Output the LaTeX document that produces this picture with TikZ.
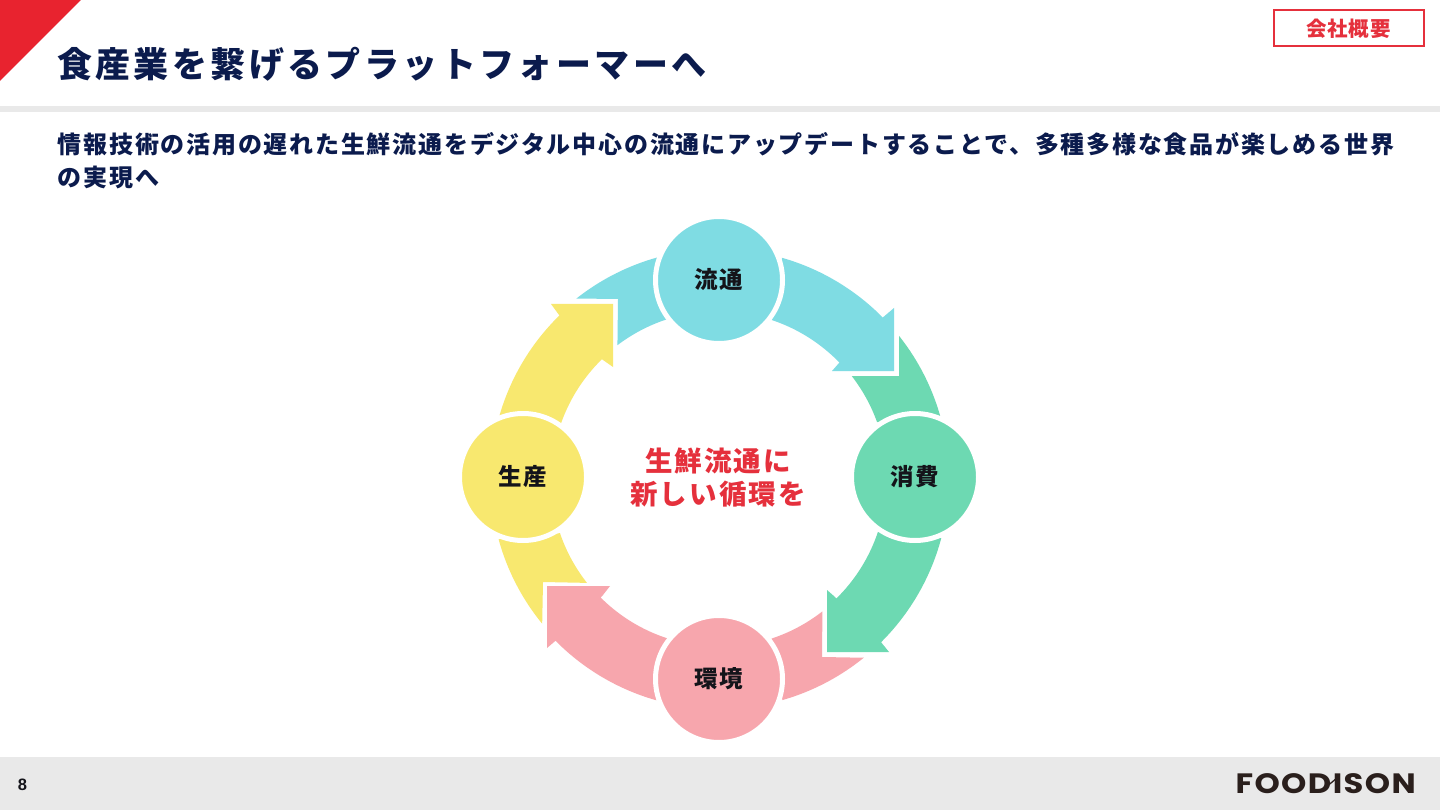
\documentclass[tikz,border=0pt]{standalone}
\usepackage{fontspec}
\setmainfont{Noto Sans CJK JP}
\newfontfamily\titlefont[LetterSpace=9.7]{Noto Sans CJK JP}
\newfontfamily\bodyfont[LetterSpace=7.4]{Noto Sans CJK JP}
\newfontfamily\centerfont[LetterSpace=7.5]{Noto Sans CJK JP}
\newfontfamily\labelfont[LetterSpace=5.5]{Noto Sans CJK JP}
\newfontfamily\tagfont[LetterSpace=4]{Noto Sans CJK JP}
\newfontfamily\logofont[LetterSpace=5,FakeStretch=1.15]{Poppins}
\newfontfamily\numfont{Liberation Sans}
\definecolor{brandred}{HTML}{E8232F}
\definecolor{softred}{HTML}{E5303C}
\definecolor{navy}{HTML}{0B1B4D}
\definecolor{band}{HTML}{E9E9E9}
\definecolor{flowc}{HTML}{7FDCE3}
\definecolor{consc}{HTML}{6DD9B2}
\definecolor{envc}{HTML}{F7A6AD}
\definecolor{prodc}{HTML}{F8E86F}
\definecolor{ink}{HTML}{14141A}
\definecolor{logoc}{HTML}{2A1F1C}
\tikzset{
  rim/.style 2 args={domain=#1:#2,samples=30},
  stage/.style={circle,minimum size=127pt,inner sep=0pt,draw=white,line width=5pt,text=ink,
    font={\labelfont\bfseries\fontsize{23.5}{26}\selectfont}},
}
\begin{document}
\begin{tikzpicture}[x=1pt,y=-1pt]
\useasboundingbox (0,0) rectangle (1440,810);
\fill[white] (0,0) rectangle (1440,810);
% frame
\fill[brandred] (0,0) -- (81,0) -- (0,81) -- cycle;
\fill[band] (0,106) rectangle (1440,112);
\fill[band] (0,757) rectangle (1440,810);
\node[draw=softred,line width=2pt,minimum width=150pt,minimum height=36pt,inner sep=0pt,text=softred,
  font={\tagfont\bfseries\fontsize{20.5}{24}\selectfont}] (tag) at (1348.5,28.5) {会社概要};
\node[anchor=base west,inner sep=0pt,text=navy,font={\titlefont\bfseries\fontsize{35}{40}\selectfont}] (title) at (57,78) {食産業を繋げるプラットフォーマーへ};
\node[anchor=north west,inner sep=0pt,text=navy,align=left,font={\bodyfont\bfseries\fontsize{24}{33}\selectfont}] (lead) at (57.5,132)
  {情報技術の活用の遅れた生鮮流通をデジタル中心の流通にアップデートすることで、多種多様な食品が楽しめる世界\\の実現へ};
% arrows
\fill[flowc] plot[rim={-74.1}{-44.6}] ({719+230*cos(\x)},{479+230*sin(\x)}) -- (894,308) -- (894,371) -- (832,371) -- (839,363) -- plot[rim={-44}{-71.6}] ({719+167.5*cos(\x)},{479+167.5*sin(\x)}) -- cycle;
\fill[consc] plot[rim={-38.5}{-15.9}] ({719+230*cos(\x)},{479+230*sin(\x)}) -- plot[rim={-19.8}{-37.8}] ({719+168*cos(\x)},{479+168*sin(\x)}) -- (899,376) -- cycle;
\fill[consc] plot[rim={14.9}{45.2}] ({719+230*cos(\x)},{479+230*sin(\x)}) -- (889,652) -- (827,652) -- (827,590) -- (835,597) -- plot[rim={45.5}{18.4}] ({719+167.5*cos(\x)},{479+167.5*sin(\x)}) -- cycle;
\fill[envc] plot[rim={51}{74}] ({719+230*cos(\x)},{479+230*sin(\x)}) -- plot[rim={71.8}{52}] ({719+168*cos(\x)},{479+168*sin(\x)}) -- (822,657) -- cycle;
\fill[envc] plot[rim={105.8}{135.3}] ({719+230*cos(\x)},{479+230*sin(\x)}) -- (547,648) -- (547,586) -- (610,586) -- (603,595) -- plot[rim={135}{107.9}] ({719+167.5*cos(\x)},{479+167.5*sin(\x)}) -- cycle;
\fill[prodc] plot[rim={140.7}{164.7}] ({719+228.5*cos(\x)},{479+228.5*sin(\x)}) -- plot[rim={161.2}{141.8}] ({719+168*cos(\x)},{479+168*sin(\x)}) -- (543,582) -- cycle;
\fill[prodc] plot[rim={196}{225.7}] ({719+228.5*cos(\x)},{479+228.5*sin(\x)}) -- (551,304) -- (613,304) -- (613,367) -- (603,360) -- plot[rim={225.7}{199.3}] ({719+167.5*cos(\x)},{479+167.5*sin(\x)}) -- cycle;
\fill[flowc] plot[rim={231.7}{254.3}] ({719+230*cos(\x)},{479+230*sin(\x)}) -- plot[rim={251.9}{232.8}] ({719+168*cos(\x)},{479+168*sin(\x)}) -- (618,299) -- cycle;
% stages
\node[stage,fill=flowc] (flow) at (719,280) {流通};
\node[stage,fill=consc] (cons) at (915,477) {消費};
\node[stage,fill=envc] (env) at (719,679) {環境};
\node[stage,fill=prodc] (prod) at (523,477) {生産};
\node[align=center,inner sep=0pt,text=softred,font={\centerfont\bfseries\fontsize{27.5}{33}\selectfont}] (hub) at (718,478) {生鮮流通に\\新しい循環を};
% footer
\node[inner sep=0pt,text=ink,font={\numfont\bfseries\fontsize{16.5}{18}\selectfont}] (page) at (22.5,785) {8};
\node[anchor=base east,inner sep=0pt,text=logoc,font={\logofont\bfseries\fontsize{28}{36}\selectfont}] (logo) at (1416,793.5) {FOODISON};
\draw[logoc,line width=1.3pt] (1320,792) -- (1337,778);
\end{tikzpicture}
\end{document}
